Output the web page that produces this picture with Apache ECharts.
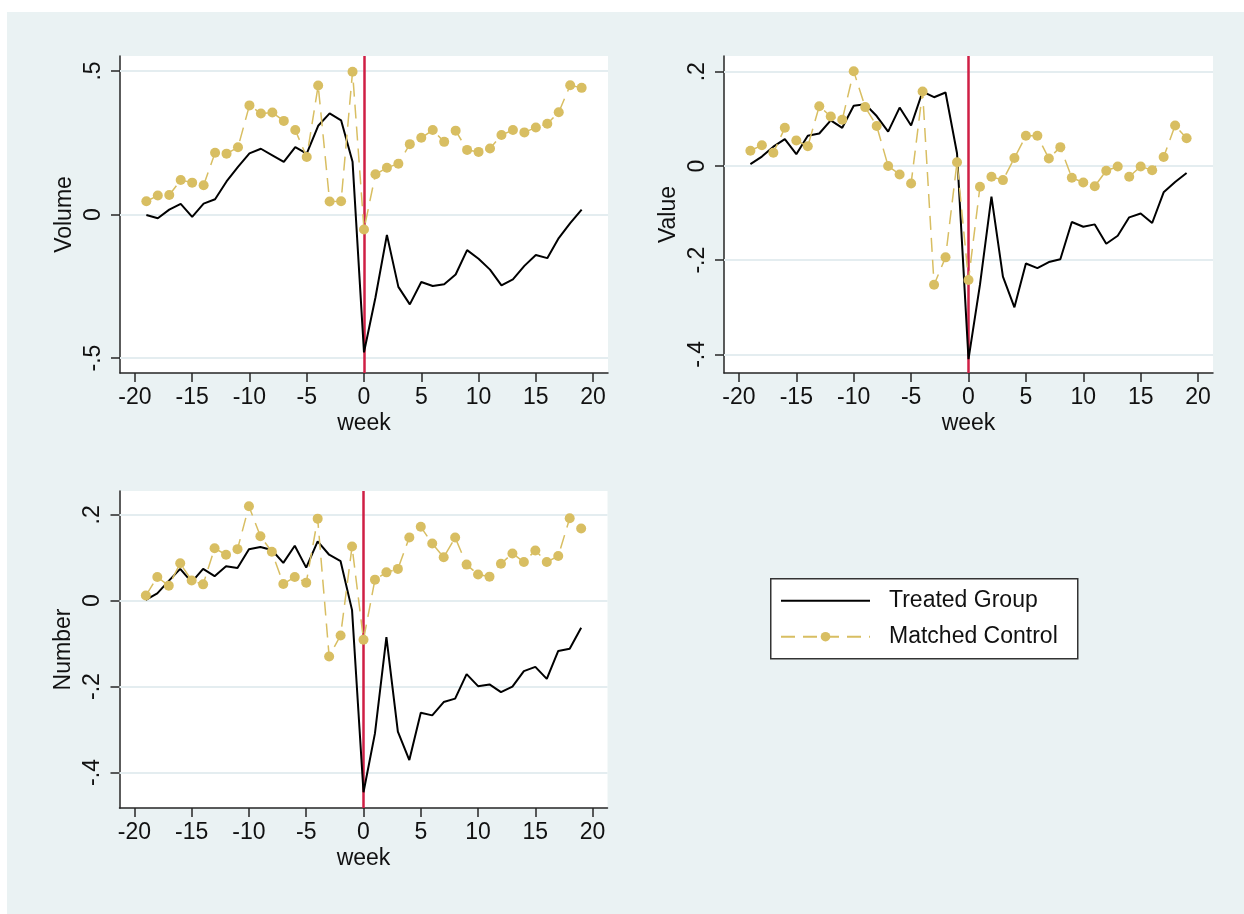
<!DOCTYPE html>
<html><head><meta charset="utf-8">
<script src="https://cdn.jsdelivr.net/npm/echarts@6/dist/echarts.min.js"></script>
<style>
html,body{margin:0;padding:0;background:#fff;}
#bg{position:absolute;left:7px;top:12px;width:1237px;height:902px;background:#EAF2F3;}
#chart{position:absolute;left:0;top:0;width:1244px;height:914px;}
</style></head><body><div id="bg"></div><div id="chart"></div>
<script>
const weeks = [-19,-18,-17,-16,-15,-14,-13,-12,-11,-10,-9,-8,-7,-6,-5,-4,-3,-2,-1,0,1,2,3,4,5,6,7,8,9,10,11,12,13,14,15,16,17,18,19];

const volumeTreated = [-0.002,-0.013,0.017,0.037,-0.008,0.038,0.053,0.115,0.166,0.213,0.229,0.206,0.183,0.235,0.212,0.309,0.352,0.328,0.184,-0.480,-0.289,-0.071,-0.252,-0.313,-0.235,-0.249,-0.243,-0.209,-0.124,-0.154,-0.192,-0.247,-0.226,-0.179,-0.141,-0.152,-0.082,-0.030,0.017];
const volumeControl = [0.046,0.066,0.068,0.120,0.111,0.102,0.215,0.212,0.234,0.380,0.352,0.355,0.326,0.294,0.200,0.449,0.045,0.046,0.497,-0.052,0.140,0.163,0.177,0.245,0.267,0.294,0.253,0.292,0.225,0.218,0.230,0.277,0.294,0.286,0.303,0.316,0.356,0.450,0.441];

const valueTreated = [0.004,0.020,0.041,0.057,0.025,0.064,0.069,0.097,0.081,0.128,0.131,0.106,0.073,0.124,0.086,0.158,0.146,0.156,0.027,-0.410,-0.252,-0.065,-0.235,-0.300,-0.207,-0.217,-0.204,-0.198,-0.119,-0.129,-0.124,-0.165,-0.148,-0.109,-0.101,-0.121,-0.056,-0.034,-0.015];
const valueControl = [0.0325,0.044,0.028,0.081,0.054,0.042,0.127,0.105,0.098,0.201,0.125,0.085,0.000,-0.018,-0.037,0.158,-0.252,-0.194,0.008,-0.242,-0.044,-0.023,-0.030,0.017,0.064,0.064,0.016,0.040,-0.025,-0.035,-0.043,-0.010,-0.001,-0.023,-0.001,-0.009,0.019,0.086,0.059];

const numberTreated = [0.002,0.017,0.046,0.074,0.043,0.074,0.057,0.080,0.076,0.120,0.125,0.118,0.088,0.128,0.077,0.138,0.107,0.092,-0.022,-0.446,-0.309,-0.085,-0.305,-0.371,-0.261,-0.267,-0.236,-0.228,-0.171,-0.199,-0.195,-0.213,-0.200,-0.164,-0.154,-0.182,-0.117,-0.112,-0.063];
const numberControl = [0.012,0.055,0.035,0.087,0.047,0.038,0.122,0.107,0.120,0.220,0.150,0.114,0.039,0.055,0.042,0.191,-0.130,-0.081,0.126,-0.091,0.049,0.066,0.074,0.147,0.172,0.133,0.101,0.147,0.084,0.061,0.056,0.086,0.110,0.090,0.117,0.090,0.104,0.192,0.168];

const xTicks = [-20,-15,-10,-5,0,5,10,15,20];
const xTickLabels = ['-20','-15','-10','-5','0','5','10','15','20'];
const volumeTicks = [-0.5,0,0.5];
const volumeTickLabels = ['-.5','0','.5'];
const valueTicks = [-0.4,-0.2,0,0.2];
const valueTickLabels = ['-.4','-.2','0','.2'];
const numberTicks = [-0.4,-0.2,0,0.2];
const numberTickLabels = ['-.4','-.2','0','.2'];

const panelNames = ['Volume','Value','Number'];
const seriesNames = ['Treated Group','Matched Control'];

const FONT = "'Liberation Sans', Arial, sans-serif";
const FS = 23;
const CONTROL_COLOR = '#D8BE62';
const GRID_COLOR = '#E4EDF0';
const AXIS_COLOR = '#262626';

const panels = [
  {name: panelNames[0], treated: volumeTreated, control: volumeControl, ticks: volumeTicks, labels: volumeTickLabels, min: -0.552, max: 0.552,
   grid: {left: 120, top: 56, width: 488, height: 317}},
  {name: panelNames[1], treated: valueTreated, control: valueControl, ticks: valueTicks, labels: valueTickLabels, min: -0.4395, max: 0.2335,
   grid: {left: 724, top: 56, width: 489, height: 317}},
  {name: panelNames[2], treated: numberTreated, control: numberControl, ticks: numberTicks, labels: numberTickLabels, min: -0.4827, max: 0.2554,
   grid: {left: 119.5, top: 491, width: 488, height: 317}}
];

const grids = [], xAxes = [], yAxes = [], series = [];
panels.forEach((p, i) => {
  grids.push(Object.assign({show: true, backgroundColor: '#fff', borderWidth: 0, containLabel: false}, p.grid));
  xAxes.push({
    type: 'value', gridIndex: i, min: -21.3, max: 21.3,
    name: 'week', nameLocation: 'middle', nameGap: 39,
    nameTextStyle: {fontFamily: FONT, fontSize: FS, color: '#111'},
    axisLine: {show: true, onZero: false, lineStyle: {color: AXIS_COLOR, width: 1.5}},
    axisTick: {show: true, length: 9, customValues: xTicks, lineStyle: {color: AXIS_COLOR, width: 1.5}},
    axisLabel: {show: true, customValues: xTicks, margin: 13, fontFamily: FONT, fontSize: FS, color: '#111',
      formatter: v => { const k = xTicks.indexOf(v); return k >= 0 ? xTickLabels[k] : ''; }},
    splitLine: {show: false}
  });
  yAxes.push({
    type: 'value', gridIndex: i, min: p.min, max: p.max,
    name: p.name, nameLocation: 'middle', nameGap: 44, nameRotate: 90,
    nameTextStyle: {fontFamily: FONT, fontSize: FS, color: '#111'},
    axisLine: {show: true, onZero: false, lineStyle: {color: AXIS_COLOR, width: 1.5}},
    axisTick: {show: true, length: 9, customValues: p.ticks, lineStyle: {color: AXIS_COLOR, width: 1.5}},
    axisLabel: {show: true, customValues: p.ticks, rotate: 90, margin: 15, fontFamily: FONT, fontSize: FS, color: '#111',
      formatter: v => { const k = p.ticks.findIndex(t => Math.abs(t - v) < 1e-9); return k >= 0 ? p.labels[k] : ''; }},
    splitLine: {show: false}
  });
  const markData = p.ticks.map(t => ({yAxis: t, lineStyle: {color: GRID_COLOR, width: 2, type: 'solid'}}));
  markData.push({xAxis: 0, lineStyle: {color: '#CF1F45', width: 2.5, type: 'solid'}});
  series.push({
    name: seriesNames[0], type: 'line', xAxisIndex: i, yAxisIndex: i,
    data: weeks.map((w, k) => [w, p.treated[k]]),
    showSymbol: false, symbol: 'none', color: '#000',
    lineStyle: {color: '#000', width: 2}, z: 3,
    markLine: {silent: true, symbol: ['none', 'none'], label: {show: false}, z: 1, animation: false, data: markData}
  });
  series.push({
    name: seriesNames[1], type: 'line', xAxisIndex: i, yAxisIndex: i,
    data: weeks.map((w, k) => [w, p.control[k]]),
    symbol: 'circle', symbolSize: 10, showSymbol: true, color: CONTROL_COLOR,
    itemStyle: {color: CONTROL_COLOR},
    lineStyle: {color: CONTROL_COLOR, width: 1.5, type: [14, 8]}, z: 4
  });
});

const chart = echarts.init(document.getElementById('chart'), null, {renderer: 'canvas'});
chart.setOption({
  animation: false,
  backgroundColor: 'transparent',
  textStyle: {fontFamily: FONT},
  grid: grids, xAxis: xAxes, yAxis: yAxes, series: series,
  graphic: [{type: 'rect', left: 770, top: 578, shape: {width: 307, height: 80}, z: 0,
    style: {fill: '#fff', stroke: '#333', lineWidth: 1.5}}],
  legend: {
    show: true, orient: 'vertical', left: 780, top: 588.7, padding: 0,
    itemWidth: 89, itemHeight: 12, itemGap: 12,
    data: [
      {name: seriesNames[0], itemStyle: {color: 'rgba(0,0,0,0)', borderWidth: 0, opacity: 0}},
      {name: seriesNames[1]}
    ],
    textStyle: {fontFamily: FONT, fontSize: FS, color: '#111', lineHeight: 24, padding: [0, 0, 0, 14]}
  }
});
</script></body></html>
